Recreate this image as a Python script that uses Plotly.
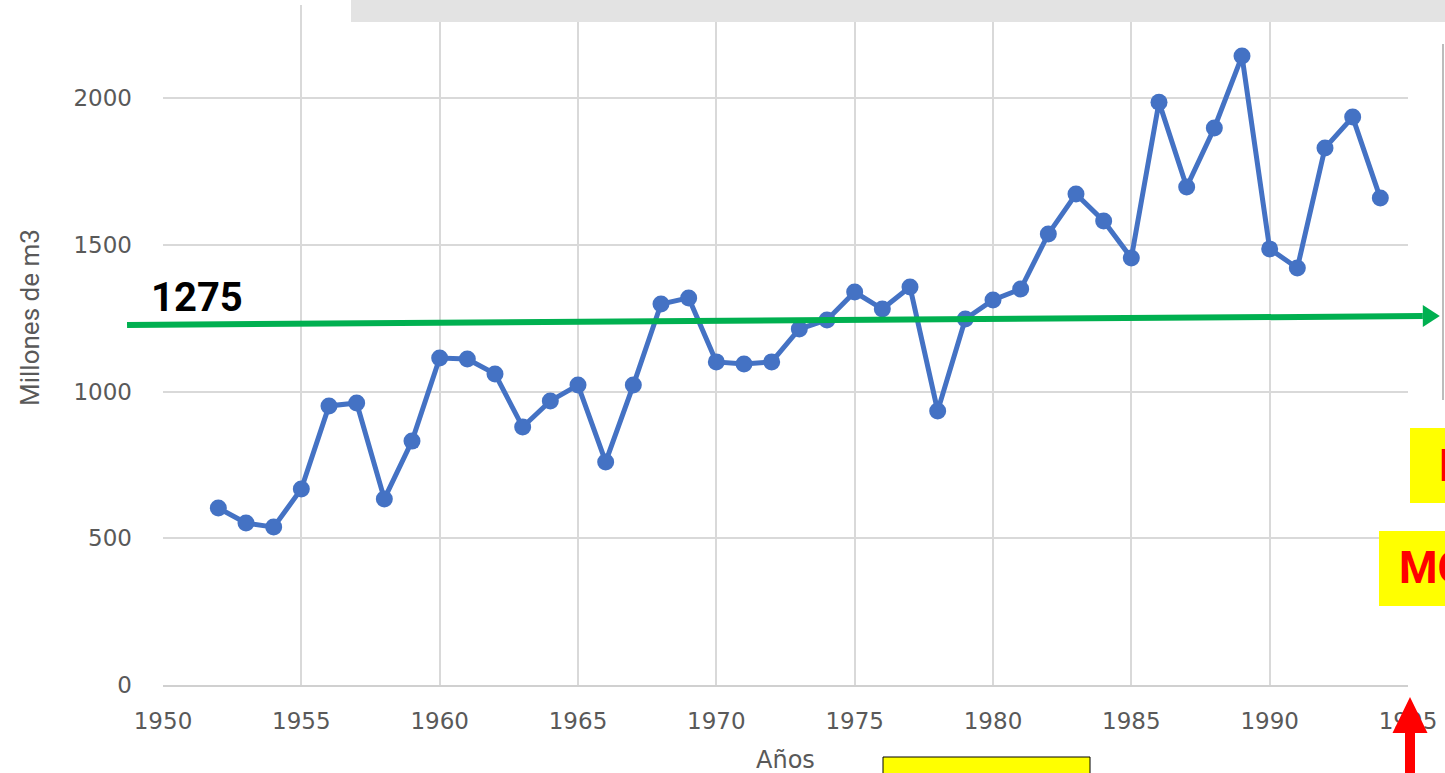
import plotly.graph_objects as go

# ---------------- data ----------------
years = list(range(1952, 1995))
volumes = [603, 552, 538, 668, 951, 961, 634, 831, 1114, 1111,
           1060, 879, 968, 1022, 760, 1022, 1298, 1319, 1101, 1094,
           1101, 1213, 1244, 1339, 1281, 1356, 934, 1247, 1312, 1349,
           1537, 1673, 1581, 1455, 1986, 1697, 1898, 2143, 1486, 1421,
           1830, 1935, 1659]
y_ticks = [0, 500, 1000, 1500, 2000]
x_ticks = [1950, 1955, 1960, 1965, 1970, 1975, 1980, 1985, 1990, 1995]
mean_label = "1275"
mean_arrow_x = [1948.7, 1996.15]   # start / tip of green arrow (years)
mean_arrow_y = [1227, 1257]        # start / tip of green arrow (values)

X_MIN, X_MAX = 1950, 1995
Y_MIN, Y_MAX = 0, 2317

W, H = 1445, 773
L, R, T, B = 163, 37, 5, 88
PW, PH = W - L - R, H - T - B


def px(xpix):
    return (xpix - L) / PW


def py(ypix):
    return (H - B - ypix) / PH


def xp(year):
    return (year - X_MIN) / (X_MAX - X_MIN)


def yp(val):
    return (val - Y_MIN) / (Y_MAX - Y_MIN)


GRAY = "#595959"
fig = go.Figure()
fig.add_trace(go.Scatter(
    x=years, y=volumes, mode="lines+markers",
    line=dict(color="#4472C4", width=5),
    marker=dict(color="#4472C4", size=17),
    showlegend=False, cliponaxis=False,
))

shapes = []
# gray band at top
shapes.append(dict(type="rect", xref="paper", yref="paper",
                   x0=px(351), x1=px(1450), y0=py(22), y1=py(-5),
                   fillcolor="#e3e3e3", line=dict(width=0), layer="above"))
# thin gray vertical line at right
shapes.append(dict(type="line", xref="paper", yref="paper",
                   x0=px(1443), x1=px(1443), y0=py(44), y1=py(400),
                   line=dict(color="#a6a6a6", width=1.5), layer="above"))
# green arrow (mean)
gx0, gx1 = xp(mean_arrow_x[0]), xp(mean_arrow_x[1])
gy0, gy1 = yp(mean_arrow_y[0]), yp(mean_arrow_y[1])
head_len = 17 / PW
head_half = 11 / PH
shapes.append(dict(type="line", xref="paper", yref="paper",
                   x0=gx0, y0=gy0, x1=gx1 - head_len, y1=gy1,
                   line=dict(color="#00B050", width=6), layer="above"))
shapes.append(dict(type="path", xref="paper", yref="paper",
                   path=f"M {gx1} {gy1} L {gx1 - head_len} {gy1 + head_half} L {gx1 - head_len} {gy1 - head_half} Z",
                   fillcolor="#00B050", line=dict(width=0), layer="above"))
# yellow boxes on the right
shapes.append(dict(type="rect", xref="paper", yref="paper",
                   x0=px(1410), x1=px(1450), y0=py(503), y1=py(428),
                   fillcolor="#FFFF00", line=dict(width=0), layer="above"))
shapes.append(dict(type="rect", xref="paper", yref="paper",
                   x0=px(1379), x1=px(1450), y0=py(606), y1=py(531),
                   fillcolor="#FFFF00", line=dict(width=0), layer="above"))
# yellow box bottom
shapes.append(dict(type="rect", xref="paper", yref="paper",
                   x0=px(883), x1=px(1090), y0=py(790), y1=py(757),
                   fillcolor="#FFFF00", line=dict(color="black", width=1), layer="above"))
# red arrow at bottom right
ax_c = px(1410)
shaft = 5 / PW
hh = 17.5 / PW
shapes.append(dict(type="path", xref="paper", yref="paper",
                   path=(f"M {ax_c} {py(697)} L {ax_c + hh} {py(733)} L {ax_c + shaft} {py(733)} "
                         f"L {ax_c + shaft} {py(790)} L {ax_c - shaft} {py(790)} L {ax_c - shaft} {py(733)} "
                         f"L {ax_c - hh} {py(733)} Z"),
                   fillcolor="#FF0000", line=dict(width=0), layer="above"))

annotations = [
    dict(text=mean_label, x=1951.23, y=1319, xref="x", yref="y", showarrow=False,
         font=dict(family="Roboto", size=40, color="black", weight="bold"),
         xanchor="center", yanchor="middle"),
    dict(text="Millones de m3", x=px(30), y=py(318), xref="paper", yref="paper",
         showarrow=False, textangle=-90,
         font=dict(family="Roboto", size=26, color=GRAY),
         xanchor="center", yanchor="middle"),
    dict(text="Años", x=0.5, y=py(760), xref="paper", yref="paper", showarrow=False,
         font=dict(family="DejaVu Sans", size=24, color=GRAY),
         xanchor="center", yanchor="middle"),
    dict(text="MÓDULO", x=px(1397), y=py(568), xref="paper", yref="paper", showarrow=False,
         font=dict(family="Roboto", size=44, color="#FF0000", weight="bold"),
         xanchor="left", yanchor="middle"),
    dict(text="PROMEDIO", x=px(1437), y=py(466), xref="paper", yref="paper", showarrow=False,
         font=dict(family="Roboto", size=44, color="#FF0000", weight="bold"),
         xanchor="left", yanchor="middle"),
]

fig.update_layout(
    width=W, height=H,
    margin=dict(l=L, r=R, t=T, b=B),
    plot_bgcolor="white", paper_bgcolor="white",
    shapes=shapes, annotations=annotations,
    xaxis=dict(range=[X_MIN, X_MAX], tickvals=x_ticks, ticktext=[str(v) for v in x_ticks],
               showgrid=True, gridcolor="#d9d9d9", gridwidth=1.5,
               showline=True, linecolor="#d0d0d0", linewidth=1.5, zeroline=False,
               tickfont=dict(family="DejaVu Sans", size=23, color=GRAY),
               ticklabelstandoff=15),
    yaxis=dict(range=[Y_MIN, Y_MAX], tickvals=y_ticks, ticktext=[str(v) for v in y_ticks],
               showgrid=True, gridcolor="#d9d9d9", gridwidth=1.5,
               showline=False, zeroline=False,
               tickfont=dict(family="DejaVu Sans", size=23, color=GRAY),
               ticklabelstandoff=30),
)

fig.write_html("out.html", config={"displayModeBar": False},
               post_script="document.body.style.margin='0';")
